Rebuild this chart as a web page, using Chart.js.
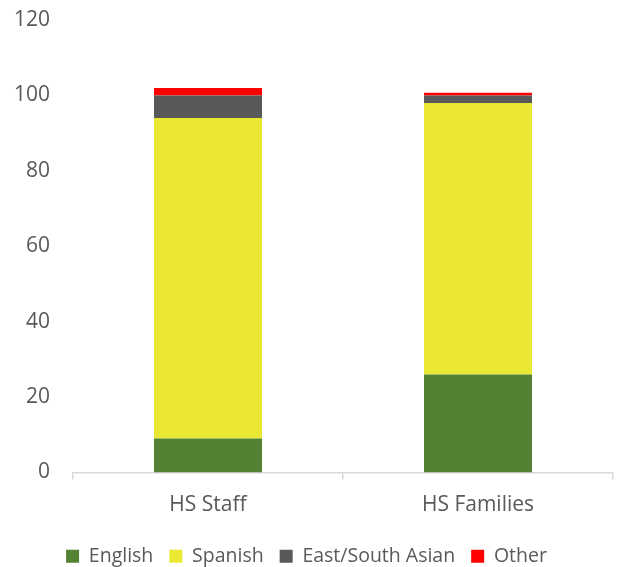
<!DOCTYPE html>
<html>
<head>
<meta charset="utf-8">
<script src="https://cdn.jsdelivr.net/npm/chart.js@4"></script>
<style>
  html, body { margin: 0; padding: 0; background: #fff; }
  #wrap { width: 621px; height: 567px; position: relative; }
</style>
</head>
<body>
<div id="wrap"><canvas id="langChart"></canvas></div>
<script>
// DATA
const categories = ['HS Staff', 'HS Families'];
const english = [9, 26];
const spanish = [85, 72];
const eastSouthAsian = [6, 2];
const other = [2, 0.7];
const yTicks = [0, 20, 40, 60, 80, 100, 120];

const fontFam = "'Open Sans', 'Liberation Sans', sans-serif";
const textCol = '#595959';

const mk = (label, values, color) => ({
  label: label,
  data: values,
  backgroundColor: color,
  borderWidth: 0,
  barPercentage: 0.8,
  categoryPercentage: 0.5
});

/* push the legend a bit lower, closer to the bottom edge */
const legendShift = {
  id: 'legendShift',
  afterLayout(chart) {
    chart.legend.top += 9;
    chart.legend.bottom += 9;
  }
};

const config = {
  type: 'bar',
  data: {
    labels: categories,
    datasets: [
      mk('English', english, '#548235'),
      mk('Spanish', spanish, '#EBE834'),
      mk('East/South Asian', eastSouthAsian, '#595959'),
      mk('Other', other, '#FF0000')
    ]
  },
  options: {
    responsive: true,
    maintainAspectRatio: false,
    animation: false,
    layout: { padding: { top: 0, right: 8, left: 0, bottom: 0 } },
    scales: {
      x: {
        stacked: true,
        grid: {
          display: true,
          offset: true,
          drawOnChartArea: false,
          drawTicks: true,
          tickLength: 7,
          color: '#d9d9d9',
          lineWidth: 1.5
        },
        border: { color: '#d9d9d9', width: 1.5 },
        ticks: { color: textCol, font: { family: fontFam, size: 21 }, padding: 13 },
        afterFit: (axis) => { axis.height = 49; }
      },
      y: {
        stacked: true,
        min: 0,
        max: 120,
        afterBuildTicks: (axis) => { axis.ticks = yTicks.map(v => ({ value: v })); },
        grid: { display: false, drawTicks: false },
        border: { display: false },
        ticks: { color: textCol, font: { family: fontFam, size: 21 }, padding: 23 },
        afterFit: (axis) => {
          axis.width = 73;
          axis.paddingTop = 20;
          axis.paddingBottom = 0;
        }
      }
    },
    plugins: {
      tooltip: { enabled: false },
      legend: {
        position: 'bottom',
        labels: {
          color: textCol,
          font: { family: fontFam, size: 19.5 },
          boxWidth: 13,
          boxHeight: 13,
          padding: 16
        }
      }
    }
  },
  plugins: [legendShift]
};

const langChart = new Chart(document.getElementById('langChart'), config);
</script>
</body>
</html>
